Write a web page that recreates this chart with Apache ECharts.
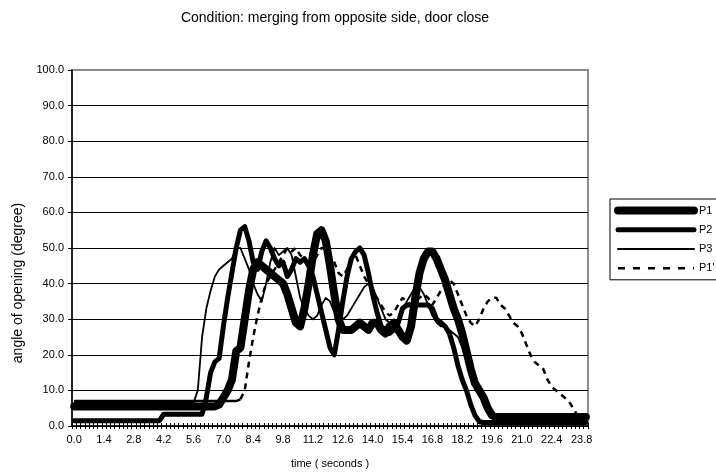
<!DOCTYPE html>
<html>
<head>
<meta charset="utf-8">
<script src="https://cdn.jsdelivr.net/npm/echarts@6/dist/echarts.min.js"></script>
<style>html,body{margin:0;padding:0;background:#fff}#c{width:716px;height:476px}</style>
</head>
<body>
<div id="c"></div>
<script>
// time in seconds, sampled every 0.2 s
const times = ["0.0","0.2","0.4","0.6","0.8","1.0","1.2","1.4","1.6","1.8","2.0","2.2","2.4","2.6","2.8","3.0","3.2","3.4","3.6","3.8","4.0","4.2","4.4","4.6","4.8","5.0","5.2","5.4","5.6","5.8","6.0","6.2","6.4","6.6","6.8","7.0","7.2","7.4","7.6","7.8","8.0","8.2","8.4","8.6","8.8","9.0","9.2","9.4","9.6","9.8","10.0","10.2","10.4","10.6","10.8","11.0","11.2","11.4","11.6","11.8","12.0","12.2","12.4","12.6","12.8","13.0","13.2","13.4","13.6","13.8","14.0","14.2","14.4","14.6","14.8","15.0","15.2","15.4","15.6","15.8","16.0","16.2","16.4","16.6","16.8","17.0","17.2","17.4","17.6","17.8","18.0","18.2","18.4","18.6","18.8","19.0","19.2","19.4","19.6","19.8","20.0","20.2","20.4","20.6","20.8","21.0","21.2","21.4","21.6","21.8","22.0","22.2","22.4","22.6","22.8","23.0","23.2","23.4","23.6","23.8","24.0"];

const seriesNames = ["P1", "P2", "P3", "P1'"];

const p1 = [5.5,5.5,5.5,5.5,5.5,5.5,5.5,5.5,5.5,5.5,5.5,5.5,5.5,5.5,5.5,5.5,5.5,5.5,5.5,5.5,5.5,5.5,5.5,5.5,5.5,5.5,5.5,5.5,5.5,5.5,5.5,5.5,5.5,5.5,
  6,8,10,13,21,22,30,38,44,46,45,44,43,42,41,40,37,33,29,28,33,40,48,54,55,52,45,37,30,27,27,27,28,29,28,27,29,29,27,26,28,29,27,25,24,28,36,43,47,49,49,47,44,41,37,33,30,26,21,16,12,10,8,5,3,
  2.5,2.5,2.5,2.5,2.5,2.5,2.5,2.5,2.5,2.5,2.5,2.5,2.5,2.5,2.5,2.5,2.5,2.5,2.5,2.5,2.5,2.5];

const p2 = [1.5,1.5,1.5,1.5,1.5,1.5,1.5,1.5,1.5,1.5,1.5,1.5,1.5,1.5,1.5,1.5,1.5,1.5,1.5,1.5,1.5,
  3.3,3.3,3.3,3.3,3.3,3.3,3.3,3.3,3.3,3.3,
  8,15,18,19,28,36,43,50,55,56,52,46,44,49,52,50,47,45,46,42,44,47,46,47,45,42,37,32,27,22,20,27,35,42,47,49,50,48,43,37,32,28,27,26,27,29,33,34,34,34,34,34,34,33,30,29,28,26,22,17,13,10,6,3,1.2,
  1,1,1,1,1,1,1,1,1,1,1,1,1,1,1,1,1,1,1,1,1,1,1,1,1];

const p3 = [6.5,6.5,6.5,6.5,6.5,6.5,6.5,6.5,6.5,6.5,6.5,6.5,6.5,6.5,6.5,6.5,6.5,6.5,6.5,6.5,6.5,6.5,6.5,6.5,6.5,6.5,6.5,6.5,6.5,
  10,25,33,38,42,44,45,46,47,50,50,47,44,40,37,35,40,46,50,48,49,50,48,42,36,33,31,30,31,34,36,35,32,30,30,31,33,35,37,39,40,39,36,33,30,29,29,30,32,35,37,39,39,37,34,31,29,28,28,27,26,25,22,18,14,11,9,6,4,3,
  2.5,2.5,2.5,2.5,2.5,2.5,2.5,2.5,2.5,2.5,2.5,2.5,2.5,2.5,2.5,2.5,2.5,2.5,2.5,2.5,2.5,2.5];

const p1b = [7,7,7,7,7,7,7,7,7,7,7,7,7,7,7,7,7,7,7,7,7,7,7,7,7,7,7,7,7,7,7,7,7,7,7,7,7,7,7,
  7.5,10,18,25,31,36,40,42,44,46,48,50,49,50,48,47,44,46,48,50,50,48,46,43,42,44,47,48,45,42,40,38,36,34,32,31,32,34,36,35,34,35,36,37,36,34,36,38,40,41,40,37,34,31,29,28,30,33,35,36,36,34,33,31,29,28,26,23,20,18,17,16,13,11,10,9,8,7,5,3,2.5,2.5];

const yTicks = {min: 0, max: 100, step: 10};

const FONT = "'Liberation Sans', Arial, sans-serif";
const chart = echarts.init(document.getElementById('c'), null, {renderer: 'canvas'});

// Excel restarts its dash pattern at every point, so the flat start of P1' looks solid
const splitAt = 39;
const p1bSolid = p1b.map((v, i) => i <= splitAt ? v : null);
const p1bDash = p1b.map((v, i) => i >= splitAt ? v : null);

const baseLine = {type: 'line', symbol: 'none', xAxisIndex: 0, yAxisIndex: 0, animation: false, connectNulls: false, color: '#000'};

chart.setOption({
  animation: false,
  backgroundColor: '#fff',
  textStyle: {fontFamily: FONT, color: '#000'},
  title: {
    text: 'Condition: merging from opposite side, door close',
    left: 330, top: 6, textAlign: 'center',
    textStyle: {fontFamily: FONT, fontSize: 14, fontWeight: 'normal', color: '#000'}
  },
  grid: {left: 72, right: 128, top: 70, bottom: 50, show: true, borderColor: '#8c8c8c', borderWidth: 2, backgroundColor: 'transparent'},
  legend: {
    orient: 'vertical', left: 610, top: 199,
    itemWidth: 76, itemHeight: 14, itemGap: 8,
    padding: [6, 8, 6, 4],
    borderColor: '#000', borderWidth: 1, backgroundColor: '#fff',
    itemStyle: {opacity: 0, borderWidth: 0},
    textStyle: {fontFamily: FONT, fontSize: 11, color: '#000', padding: [10, 0, 0, 0]},
    selectedMode: false,
    data: [
      {name: 'P1', lineStyle: {width: 8, type: 'solid'}},
      {name: 'P2', lineStyle: {width: 5, type: 'solid'}},
      {name: 'P3', lineStyle: {width: 2, type: 'solid'}},
      {name: "P1'", lineStyle: {width: 2.5, type: [7, 8]}}
    ]
  },
  graphic: [{
    type: 'text', x: 18, y: 283, rotation: Math.PI / 2,
    style: {text: 'angle of opening (degree)', font: '14px ' + FONT, fill: '#000', textAlign: 'center', textVerticalAlign: 'middle'}
  }],
  xAxis: [{
    type: 'category', data: times, boundaryGap: true,
    axisLine: {lineStyle: {color: '#000', width: 1.5}},
    axisTick: {show: true, interval: 0, length: 3, lineStyle: {color: '#000'}},
    axisLabel: {interval: 6, fontSize: 11, color: '#000', margin: 8, fontFamily: FONT},
    name: 'time ( seconds )', nameLocation: 'middle', nameGap: 32,
    nameTextStyle: {fontSize: 11, color: '#000', fontFamily: FONT},
    splitLine: {show: false}
  }, {
    type: 'category', data: times, boundaryGap: true, position: 'bottom', gridIndex: 0,
    axisLine: {show: false},
    axisTick: {show: true, inside: true, interval: 0, length: 3, lineStyle: {color: '#000'}},
    axisLabel: {show: false}, splitLine: {show: false}
  }],
  yAxis: {
    type: 'value', min: yTicks.min, max: yTicks.max, interval: yTicks.step,
    axisLine: {show: true, lineStyle: {color: '#000', width: 1.5}},
    axisTick: {show: true, length: 4, lineStyle: {color: '#000'}},
    axisLabel: {fontSize: 11, color: '#000', margin: 8, fontFamily: FONT, formatter: v => v.toFixed(1)},
    splitLine: {show: true, showMaxLine: false, lineStyle: {color: '#000', width: 1}}
  },
  series: [
    Object.assign({}, baseLine, {name: seriesNames[0], data: p1, lineStyle: {width: 8, color: '#000', cap: 'round', join: 'round'}}),
    Object.assign({}, baseLine, {name: seriesNames[1], data: p2, lineStyle: {width: 5, color: '#000', cap: 'round', join: 'round'}}),
    Object.assign({}, baseLine, {name: seriesNames[2], data: p3, lineStyle: {width: 1.8, color: '#000', cap: 'round', join: 'round'}}),
    Object.assign({}, baseLine, {name: seriesNames[3], data: p1bSolid, lineStyle: {width: 2.5, color: '#000', type: 'solid'}}),
    Object.assign({}, baseLine, {name: seriesNames[3], data: p1bDash, lineStyle: {width: 2.5, color: '#000', type: [6, 5]}})
  ]
});
</script>
</body>
</html>
